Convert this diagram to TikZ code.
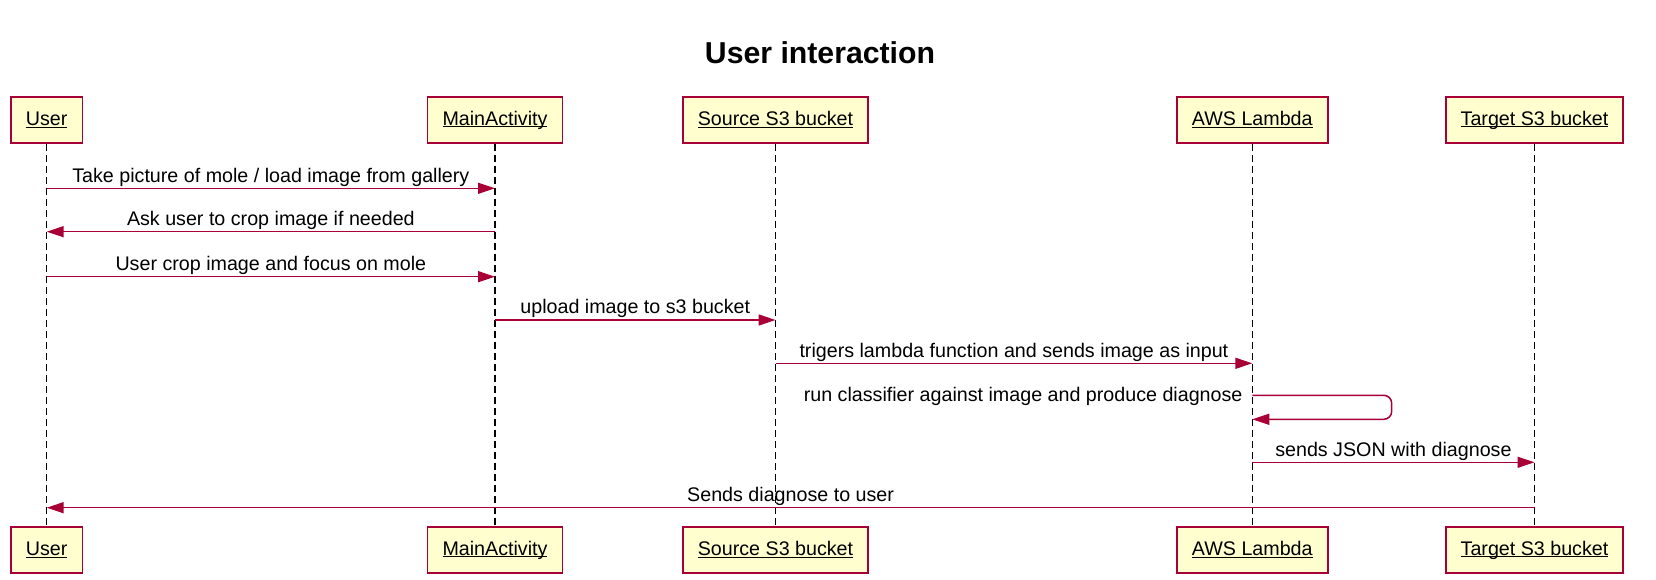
\documentclass[tikz,border=0pt]{standalone}
\usepackage{fontspec}
\setmainfont{Liberation Sans}
\usepackage{tikz}
\usetikzlibrary{
arrows.meta,
calc,
positioning
}
\definecolor{umlred}{HTML}{A80036}
\definecolor{umlfill}{HTML}{FEFECE}
% underlined participant name, rule at a fixed depth
\newcommand{\lifename}[1]{\setbox0\hbox{#1}\rlap{\rule[-0.12em]{\wd0}{0.065em}}\box0}
\tikzset{
actor/.style={draw=umlred, fill=umlfill, line width=0.035cm, minimum height=0.93cm, inner xsep=0.3cm, inner ysep=0pt},
lifeline/.style={line width=0.03cm, dash pattern=on 0.14cm off 0.08cm, black},
msg/.style={draw=umlred, line width=0.03cm, -{Triangle[length=0.34cm,width=0.22cm]}},
msglabel/.style={midway, anchor=base, yshift=0.12cm, text=black}
}

\begin{document}
\begin{tikzpicture}[x=0.02cm, y=-0.02cm, font=\fontsize{11.2}{13}\selectfont]
		\useasboundingbox (0,0) rectangle (1656,580);
		\node[font=\fontsize{17.2}{20}\selectfont\bfseries, anchor=base] (title) at (820,63.3) {User interaction};
		
		\node[actor] (userT) at (46.7,120) {\lifename{User}};
		\node[actor] (mainT) at (495,120) {\lifename{MainActivity}};
		\node[actor] (srcT) at (775.5,120) {\lifename{Source S3 bucket}};
		\node[actor] (lambdaT) at (1252.3,120) {\lifename{AWS Lambda}};
		\node[actor] (targetT) at (1534.5,120) {\lifename{Target S3 bucket}};
		
		\node[actor] (userB) at (46.7,550) {\lifename{User}};
		\node[actor] (mainB) at (495,550) {\lifename{MainActivity}};
		\node[actor] (srcB) at (775.5,550) {\lifename{Source S3 bucket}};
		\node[actor] (lambdaB) at (1252.3,550) {\lifename{AWS Lambda}};
		\node[actor] (targetB) at (1534.5,550) {\lifename{Target S3 bucket}};
		
		\draw[lifeline] (userT.south) -- (userB.north);
		\draw[lifeline] (mainT.south) -- (mainB.north);
		\draw[lifeline] (srcT.south) -- (srcB.north);
		\draw[lifeline] (lambdaT.south) -- (lambdaB.north);
		\draw[lifeline] (targetT.south) -- (targetB.north);
		
		% message rows
		\coordinate (m1) at (0,188.3);
		\coordinate (m2) at (0,231.7);
		\coordinate (m3) at (0,276.7);
		\coordinate (m4) at (0,320);
		\coordinate (m5) at (0,363.3);
		\coordinate (m6) at (0,395.3);
		\coordinate (m6b) at (0,419.3);
		\coordinate (m7) at (0,462.3);
		\coordinate (m8) at (0,507.7);
		\coordinate (loopR) at (1391.7,0);
		
		\draw[msg] (userT |- m1) -- node[msglabel] {Take picture of mole / load image from gallery} (mainT |- m1);
		\draw[msg] (mainT |- m2) -- node[msglabel] {Ask user to crop image if needed} (userT |- m2);
		\draw[msg] (userT |- m3) -- node[msglabel] {User crop image and focus on mole} (mainT |- m3);
		\draw[msg] (mainT |- m4) -- node[msglabel] {upload image to s3 bucket} (srcT |- m4);
		\draw[msg] (srcT |- m5) -- node[msglabel] {trigers lambda function and sends image as input} (lambdaT |- m5);
		
		\draw[msg, rounded corners=0.16cm] (lambdaT |- m6) -- (loopR |- m6) -- (loopR |- m6b) -- (lambdaT |- m6b);
		\node[anchor=base east, inner sep=0pt, xshift=-0.19cm, yshift=-0.12cm] (selflabel) at (lambdaT |- m6) {run classifier against image and produce diagnose};
		
		\draw[msg] (lambdaT |- m7) -- node[msglabel] {sends JSON with diagnose} (targetT |- m7);
		\draw[msg] (targetT |- m8) -- node[msglabel] {Sends diagnose to user} (userT |- m8);
	\end{tikzpicture}
\end{document}
